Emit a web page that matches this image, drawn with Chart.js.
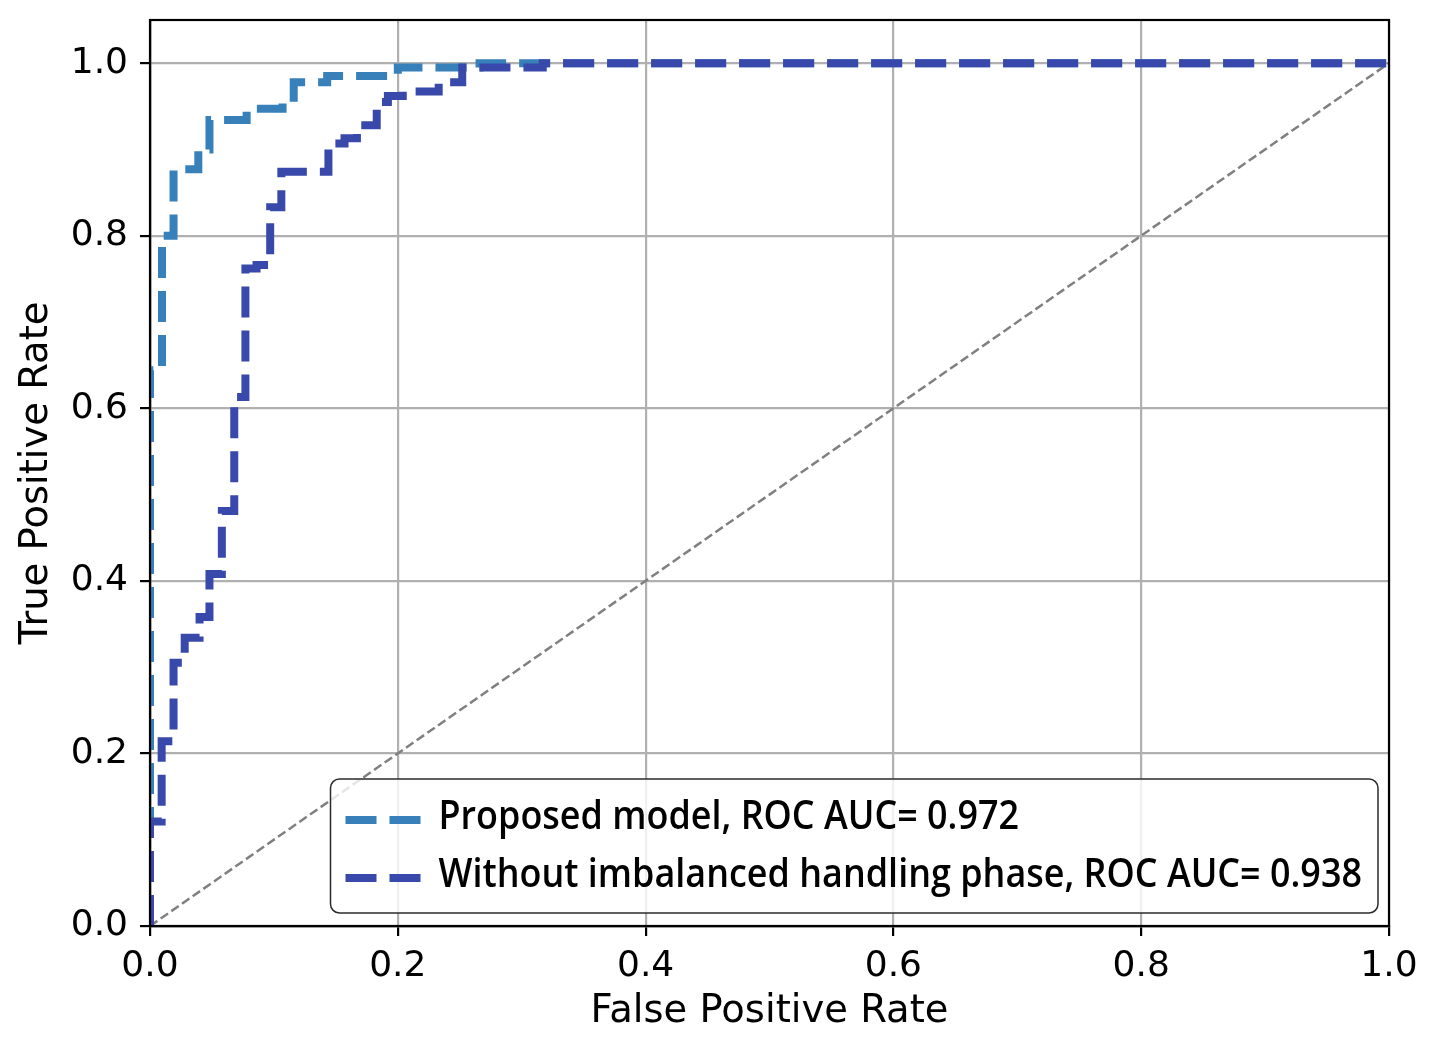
<!DOCTYPE html>
<html>
<head>
<meta charset="utf-8">
<title>ROC curve</title>
<script src="https://cdn.jsdelivr.net/npm/chart.js@4.4.1/dist/chart.umd.min.js"></script>
<style>
  body { margin: 0; background: #fff; }
  #roc { display: block; }
</style>
</head>
<body>
<canvas id="roc" width="1441" height="1052"></canvas>
<script>
// ROC points (corner points of the step curves)
var proposedFpr = [0, 0, 0.0097, 0.0097, 0.019, 0.019, 0.039, 0.039, 0.048, 0.048, 0.078, 0.078, 0.107, 0.107, 0.116, 0.116, 0.143, 0.143, 0.2, 0.2, 0.266, 0.266, 1];
var proposedTpr = [0, 0.644, 0.644, 0.80, 0.80, 0.877, 0.877, 0.90, 0.90, 0.934, 0.934, 0.947, 0.947, 0.955, 0.955, 0.978, 0.978, 0.985, 0.985, 0.995, 0.995, 1, 1];

var baselineFpr = [0, 0, 0.0094, 0.0094, 0.019, 0.019, 0.028, 0.028, 0.040, 0.040, 0.048, 0.048, 0.058, 0.058, 0.068, 0.068, 0.077, 0.077, 0.086, 0.086, 0.097, 0.097, 0.106, 0.106, 0.144, 0.144, 0.157, 0.157, 0.167, 0.167, 0.183, 0.183, 0.192, 0.192, 0.204, 0.204, 0.233, 0.233, 0.252, 0.252, 0.317, 0.317, 1];
var baselineTpr = [0, 0.121, 0.121, 0.214, 0.214, 0.305, 0.305, 0.334, 0.334, 0.358, 0.358, 0.408, 0.408, 0.481, 0.481, 0.613, 0.613, 0.762, 0.762, 0.766, 0.766, 0.833, 0.833, 0.874, 0.874, 0.907, 0.907, 0.913, 0.913, 0.928, 0.928, 0.955, 0.955, 0.962, 0.962, 0.967, 0.967, 0.978, 0.978, 0.995, 0.995, 1, 1];

var chanceLine = [0, 1];
var seriesLabels = ['Proposed model, ROC AUC= 0.972', 'Without imbalanced handling phase, ROC AUC= 0.938'];
var axisTicks = [0, 0.2, 0.4, 0.6, 0.8, 1.0];

function toPoints(xs, ys) {
  return xs.map(function(x, i) { return { x: x, y: ys[i] }; });
}

// frame on all four sides + matplotlib style legend box
var rocExtras = {
  id: 'rocExtras',
  afterDraw: function(chart) {
    var ctx = chart.ctx;
    var a = chart.chartArea;
    ctx.save();
    ctx.strokeStyle = '#000';
    ctx.lineWidth = 2.2;
    ctx.strokeRect(a.left, a.top, a.right - a.left, a.bottom - a.top);

    var boxRight = a.right - 11, boxBottom = a.bottom - 13;
    var boxLeft = 330.5, boxTop = boxBottom - 134;
    ctx.beginPath();
    ctx.roundRect(boxLeft, boxTop, boxRight - boxLeft, boxBottom - boxTop, 9);
    ctx.fillStyle = 'rgba(255,255,255,0.8)';
    ctx.fill();
    ctx.lineWidth = 1.5;
    ctx.strokeStyle = '#2b2b2b';
    ctx.stroke();

    var items = chart.data.datasets.filter(function(ds) { return ds.label; });
    ctx.font = '600 39px "Open Sans"';
    var widest = 0;
    items.forEach(function(ds) { widest = Math.max(widest, ctx.measureText(ds.label).width); });
    var textX = boxLeft + 108;
    var sx = Math.min(1, (boxRight - 16 - textX) / widest);

    items.forEach(function(ds, i) {
      var cy = boxTop + 41 + i * 58;
      ctx.beginPath();
      ctx.setLineDash(ds.borderDash);
      ctx.lineWidth = ds.borderWidth;
      ctx.strokeStyle = ds.borderColor;
      ctx.moveTo(boxLeft + 15, cy);
      ctx.lineTo(boxLeft + 91, cy);
      ctx.stroke();
      ctx.setLineDash([]);

      ctx.save();
      ctx.translate(textX, cy + 9);
      ctx.scale(sx, 1);
      ctx.fillStyle = '#000';
      ctx.textBaseline = 'alphabetic';
      ctx.fillText(ds.label, 0, 0);
      ctx.restore();
    });
    ctx.restore();
  }
};

var tickFont = { family: 'DejaVu Sans', size: 36 };
var titleFont = { family: 'DejaVu Sans', size: 38.5, lineHeight: 1.2 };

var ctx = document.getElementById('roc').getContext('2d');
var rocChart = new Chart(ctx, {
  type: 'line',
  data: {
    datasets: [{
      label: seriesLabels[0],
      data: toPoints(proposedFpr, proposedTpr),
      borderColor: '#3780ba',
      borderWidth: 8,
      borderDash: [31, 13],
      pointRadius: 0,
      fill: false,
      tension: 0,
      clip: 0,
      order: 1
    }, {
      label: seriesLabels[1],
      data: toPoints(baselineFpr, baselineTpr),
      borderColor: '#3949ab',
      borderWidth: 8,
      borderDash: [31, 13],
      pointRadius: 0,
      fill: false,
      tension: 0,
      clip: 0,
      order: 0
    }, {
      data: toPoints(chanceLine, chanceLine),
      borderColor: '#808080',
      borderWidth: 2.5,
      borderDash: [9, 4],
      pointRadius: 0,
      fill: false,
      clip: 0,
      order: 2
    }]
  },
  options: {
    responsive: false,
    animation: false,
    events: [],
    layout: { padding: { top: 20, right: 52, left: 0, bottom: 0 } },
    plugins: {
      legend: { display: false },
      tooltip: { enabled: false }
    },
    scales: {
      x: {
        type: 'linear',
        min: 0,
        max: 1,
        afterBuildTicks: function(scale) {
          scale.ticks = axisTicks.map(function(v) { return { value: v }; });
        },
        afterFit: function(scale) { scale.height = 126; },
        ticks: {
          font: tickFont,
          color: '#000',
          padding: 9,
          maxRotation: 0,
          callback: function(value) { return value.toFixed(1); }
        },
        grid: { color: '#b0b0b0', lineWidth: 2.2, tickLength: 10, tickColor: '#000', tickWidth: 2.2 },
        border: { color: '#000', width: 2.2 },
        title: { display: true, text: 'False Positive Rate', font: titleFont, color: '#000', padding: { top: 0, bottom: 17 } }
      },
      y: {
        type: 'linear',
        min: 0,
        max: 1.05,
        afterBuildTicks: function(scale) {
          scale.ticks = axisTicks.map(function(v) { return { value: v }; });
        },
        afterFit: function(scale) {
          scale.width = 150;
          scale.paddingTop = 0;
          scale.paddingBottom = 0;
        },
        ticks: {
          font: tickFont,
          color: '#000',
          padding: 12,
          callback: function(value) { return value.toFixed(1); }
        },
        grid: { color: '#b0b0b0', lineWidth: 2.2, tickLength: 10, tickColor: '#000', tickWidth: 2.2 },
        border: { color: '#000', width: 2.2 },
        title: { display: true, text: 'True Positive Rate', font: titleFont, color: '#000', padding: { top: 14, bottom: 0 } }
      }
    }
  },
  plugins: [rocExtras]
});
</script>
</body>
</html>
